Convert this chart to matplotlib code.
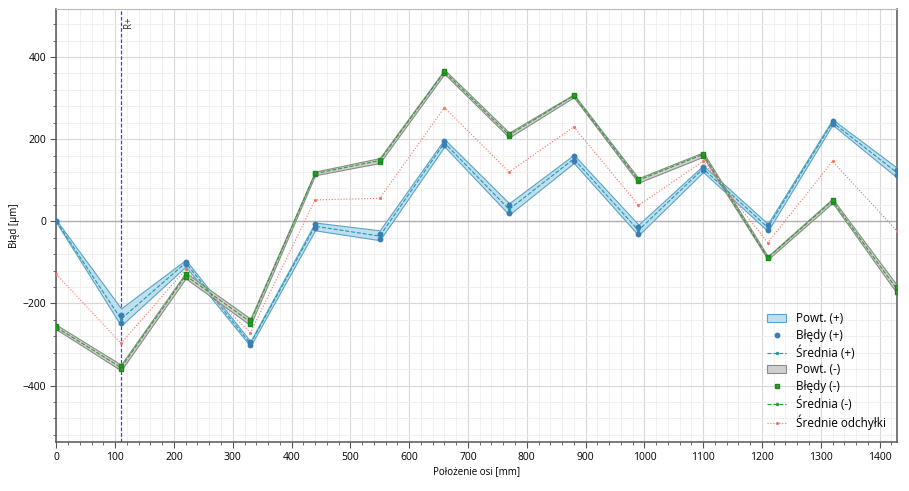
import numpy as np
import matplotlib
matplotlib.use('Agg')
import matplotlib.pyplot as plt
from matplotlib.ticker import MultipleLocator

pos = [0, 110, 220, 330, 440, 550, 660, 770, 880, 990, 1100, 1210, 1320, 1430]

# errors, direction (+), two runs
err_p1 = [0, -229, -98, -301, -7, -30, 196, 39, 158, -15, 132, -10, 244, 124]
err_p2 = [0, -248, -105, -295, -17, -42, 186, 20, 146, -30, 124, -20, 238, 112]
mean_p = [0, -238, -101, -298, -12, -36, 191, 29, 152, -22, 128, -15, 241, 118]
band_p_hi = [3, -212, -94, -292, -3, -22, 200, 44, 162, -8, 136, -6, 248, 130]
band_p_lo = [-3, -254, -110, -304, -22, -46, 182, 16, 142, -34, 120, -24, 235, 106]

# errors, direction (-)
err_m1 = [-255, -352, -128, -240, 115, 145, 362, 207, 305, 97, 160, -88, 48, -160]
err_m2 = [-260, -360, -136, -250, 118, 150, 366, 213, 307, 102, 165, -90, 52, -172]
mean_m = [-258, -356, -132, -245, 116, 148, 364, 210, 306, 100, 163, -89, 50, -166]
band_m_hi = [-252, -349, -125, -237, 121, 154, 369, 216, 309, 105, 168, -85, 55, -156]
band_m_lo = [-263, -363, -139, -253, 112, 142, 359, 204, 302, 94, 157, -93, 45, -176]

mean_dev = [-129, -297, -117, -271, 52, 56, 277, 120, 230, 39, 146, -52, 146, -24]

plt.rcParams['font.family'] = ['Open Sans', 'DejaVu Sans']
plt.rcParams['font.size'] = 7

fig = plt.figure(figsize=(9.09, 4.91), dpi=100)
ax = fig.add_axes([0.062, 0.100, 0.925, 0.881])

ax.fill_between(pos, band_p_lo, band_p_hi, facecolor='#bfdeee', edgecolor='#5ba3cc',
                linewidth=0.8, label='Powt. (+)', zorder=3)
ax.fill_between(pos, band_m_lo, band_m_hi, facecolor='#cfcfcf', edgecolor='#8a8a8a',
                linewidth=0.8, label='Powt. (-)', zorder=3)

ax.plot(pos, err_p1, 'o', color='#3a7fb4', markersize=3.2, label='Błędy (+)', zorder=5)
ax.plot(pos, err_p2, 'o', color='#3a7fb4', markersize=3.2, zorder=5)
ax.plot(pos, mean_p, '--', color='#1f9aa6', marker='.', markersize=3, linewidth=0.8,
        label='Średnia (+)', zorder=4)

ax.plot(pos, err_m1, 's', color='#1a8a1a', markerfacecolor='#2c9c2c', markersize=3.2,
        label='Błędy (-)', zorder=5)
ax.plot(pos, err_m2, 's', color='#1a8a1a', markerfacecolor='#2c9c2c', markersize=3.2, zorder=5)
ax.plot(pos, mean_m, '--', color='#2ca02c', marker='.', markersize=3, linewidth=0.8,
        label='Średnia (-)', zorder=4)

ax.plot(pos, mean_dev, ':', color='#ff6f5e', marker='.', markersize=2.5, linewidth=0.8,
        label='Średnie odchyłki', zorder=4)

ax.axvline(110, color='#3c3cff', linestyle=(0, (3, 1.5)), linewidth=0.9, zorder=2.5)
ax.text(114, 498, 'R+', rotation=90, ha='left', va='top', fontsize=7, color='#333333')

ax.axhline(0, color='#b0b0b0', linewidth=1.0, zorder=1)

ax.set_xlim(0, 1430)
ax.set_ylim(-537, 516)
ax.xaxis.set_major_locator(MultipleLocator(100))
ax.xaxis.set_minor_locator(MultipleLocator(20))
ax.yaxis.set_major_locator(MultipleLocator(200))
ax.yaxis.set_minor_locator(MultipleLocator(40))
ax.grid(which='major', color='#d8d8d8', linewidth=0.8)
ax.grid(which='minor', color='#eeeeee', linewidth=0.6)
ax.set_axisbelow(True)
ax.tick_params(which='major', length=4, color='#555555', labelsize=7.5)
ax.tick_params(which='minor', length=2, color='#555555')

for side in ['left', 'bottom', 'right']:
    ax.spines[side].set_color('#555555')
    ax.spines[side].set_linewidth(1.1)
ax.spines['top'].set_color('#bbbbbb')

ax.set_xlabel('Położenie osi [mm]', fontsize=7, labelpad=2)
ax.set_ylabel('Błąd [µm]', fontsize=7, labelpad=2)

handles, labels = ax.get_legend_handles_labels()
order = ['Powt. (+)', 'Błędy (+)', 'Średnia (+)', 'Powt. (-)', 'Błędy (-)', 'Średnia (-)',
         'Średnie odchyłki']
idx = [labels.index(o) for o in order]
ax.legend([handles[i] for i in idx], order, loc='lower right', frameon=False,
          fontsize=8.5, handlelength=1.6, labelspacing=0.3, borderaxespad=0.6)

fig.savefig('out.png', dpi=100)
